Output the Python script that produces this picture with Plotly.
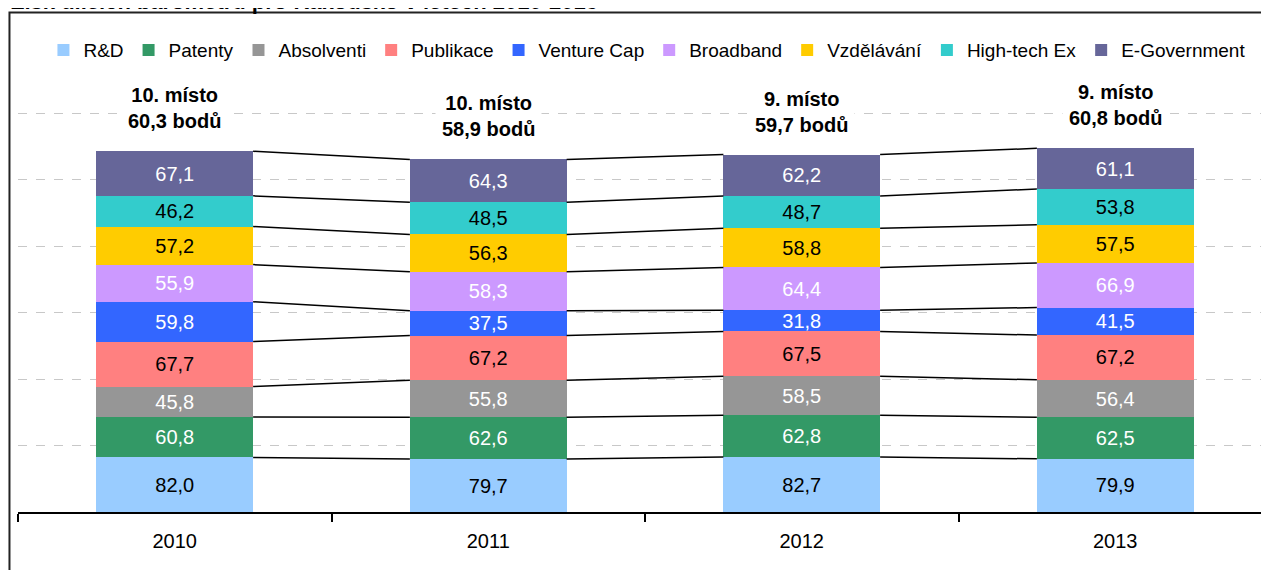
import plotly.graph_objects as go

# Data
years = ["2010", "2011", "2012", "2013"]
series = ["R&D", "Patenty", "Absolventi", "Publikace", "Venture Cap",
          "Broadband", "Vzdělávání", "High-tech Ex", "E-Government"]
rd = [82.0, 79.7, 82.7, 79.9]
patenty = [60.8, 62.6, 62.8, 62.5]
absolventi = [45.8, 55.8, 58.5, 56.4]
publikace = [67.7, 67.2, 67.5, 67.2]
venture_cap = [59.8, 37.5, 31.8, 41.5]
broadband = [55.9, 58.3, 64.4, 66.9]
vzdelavani = [57.2, 56.3, 58.8, 57.5]
hightech = [46.2, 48.5, 48.7, 53.8]
egov = [67.1, 64.3, 62.2, 61.1]
rank = [10, 10, 9, 9]
score = [60.3, 58.9, 59.7, 60.8]

values = [rd, patenty, absolventi, publikace, venture_cap,
          broadband, vzdelavani, hightech, egov]
colors = ["#99CCFF", "#339966", "#969696", "#FF8080", "#3366FF",
          "#CC99FF", "#FFCC00", "#33CCCC", "#666699"]
label_colors = ["black", "white", "white", "black", "white",
                "white", "black", "black", "white"]

FONT = "Liberation Sans, Arial, sans-serif"
BAR_W = 0.5
x_pos = list(range(len(years)))

fig = go.Figure()

# stacked bars
for name, vals, col, lcol in zip(series, values, colors, label_colors):
    fig.add_trace(go.Bar(
        x=x_pos, y=vals, name=name, width=BAR_W,
        marker=dict(color=col, line=dict(width=0)),
        texttemplate="%{y:.1f}", textposition="inside",
        insidetextanchor="middle", textangle=0, constraintext="none",
        textfont=dict(color=lcol, size=20, family=FONT),
        hoverinfo="skip",
    ))

# series lines between neighbouring bars
cum = []
run = [0.0] * len(years)
for vals in values:
    run = [a + b for a, b in zip(run, vals)]
    cum.append(run)

lx, ly = [], []
for level in cum:
    for i in range(len(years) - 1):
        lx += [x_pos[i] + BAR_W / 2, x_pos[i + 1] - BAR_W / 2, None]
        ly += [level[i], level[i + 1], None]
fig.add_trace(go.Scatter(x=lx, y=ly, mode="lines",
                         line=dict(color="black", width=1.5),
                         showlegend=False, hoverinfo="skip"))

totals = cum[-1]
for i in range(len(years)):
    sc = f"{score[i]:.1f}".replace(".", ",")
    fig.add_annotation(
        x=x_pos[i], y=totals[i], yanchor="bottom", yshift=12,
        text=f"<b>{rank[i]}. místo<br>{sc} bodů</b>", showarrow=False,
        font=dict(size=20, color="black", family=FONT),
        bgcolor="white", borderpad=6,
    )

# title, mostly cut off by the top edge as in the picture
fig.add_annotation(
    xref="paper", yref="paper", x=-0.007, y=1.237, xanchor="left", yanchor="bottom",
    text="<b>Zisk dílčích barometrů pro Rakousko v letech 2010-2013</b>",
    showarrow=False, font=dict(size=22, color="black", family=FONT),
)

# outer frame
fig.add_shape(type="rect", xref="paper", yref="paper",
              x0=-0.0068, x1=1.05, y0=-0.3, y1=1.2455,
              line=dict(color="#222222", width=2), layer="below")

fig.update_layout(
    width=1269, height=570,
    barmode="stack", bargap=0.5,
    separators=", ",
    plot_bgcolor="white", paper_bgcolor="white",
    margin=dict(l=10, r=5, t=103, b=66, autoexpand=False),
    font=dict(family=FONT, size=20, color="black"),
    legend=dict(orientation="h", xref="container", yref="container",
                x=0.5035, xanchor="center", y=0.926, yanchor="middle",
                font=dict(size=19, family=FONT), traceorder="normal",
                itemclick=False, itemdoubleclick=False),
    showlegend=True,
)
fig.update_xaxes(
    range=[-0.5, len(years) - 0.5], tickvals=x_pos, ticktext=years, ticks="",
    showline=True, linecolor="black", linewidth=2, showgrid=False, zeroline=False,
    ticklabelstandoff=10, tickfont=dict(size=20, family=FONT),
    minor=dict(tickvals=[p - 0.5 for p in x_pos], ticks="outside", ticklen=8,
               tickwidth=1.5, tickcolor="black", showgrid=False),
)
fig.update_yaxes(
    range=[0, 603], dtick=100, showticklabels=False, showline=False,
    showgrid=True, gridcolor="#C8C8C8", griddash="dash", gridwidth=1.2, zeroline=False,
)

fig.write_html("out.html")
